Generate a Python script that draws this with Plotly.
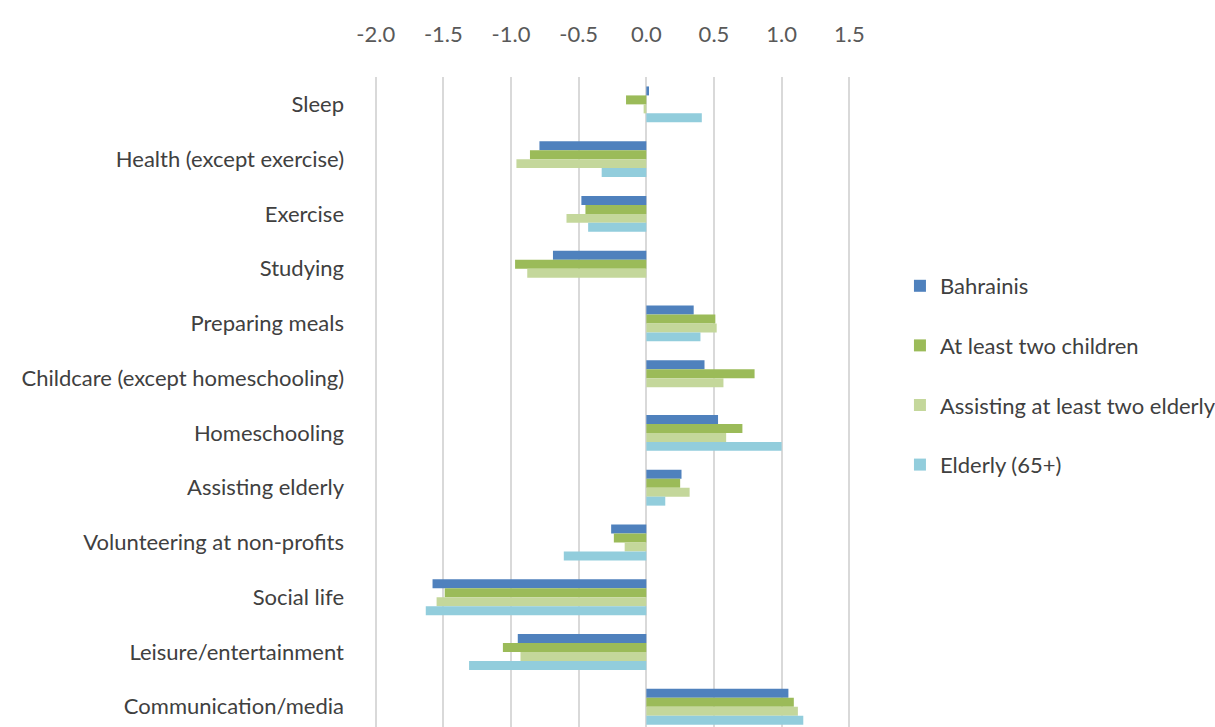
import plotly.graph_objects as go

categories = ["Sleep", "Health (except exercise)", "Exercise", "Studying", "Preparing meals",
              "Childcare (except homeschooling)", "Homeschooling", "Assisting elderly",
              "Volunteering at non-profits", "Social life", "Leisure/entertainment",
              "Communication/media"]
bahrainis = [0.02, -0.79, -0.48, -0.69, 0.35, 0.43, 0.53, 0.26, -0.26, -1.58, -0.95, 1.05]
two_children = [-0.15, -0.86, -0.45, -0.97, 0.51, 0.80, 0.71, 0.25, -0.24, -1.49, -1.06, 1.09]
two_elderly = [-0.02, -0.96, -0.59, -0.88, 0.52, 0.57, 0.59, 0.32, -0.16, -1.55, -0.93, 1.12]
elderly = [0.41, -0.33, -0.43, None, 0.40, None, 1.00, 0.14, -0.61, -1.63, -1.31, 1.16]

series = [
    ("Bahrainis", bahrainis, "#4F81BD"),
    ("At least two children", two_children, "#9BBB59"),
    ("Assisting at least two elderly", two_elderly, "#C4D79B"),
    ("Elderly (65+)", elderly, "#92CDDC"),
]
tick_vals = [-2.0, -1.5, -1.0, -0.5, 0.0, 0.5, 1.0, 1.5]
tick_text = ["-2.0", "-1.5", "-1.0", "-0.5", "0.0", "0.5", "1.0", "1.5"]

fig = go.Figure()
for i, (name, vals, color) in enumerate(series):
    fig.add_trace(go.Bar(
        y=categories, x=vals, name=name, orientation="h",
        marker=dict(color=color, line=dict(width=0)),
        legendgroup="g%d" % i,
    ))

font_family = "Lato, 'Open Sans', sans-serif"
fig.update_layout(
    width=1215, height=727,
    margin=dict(l=373, r=363, t=77, b=0, pad=0),
    paper_bgcolor="white", plot_bgcolor="white",
    barmode="group", bargap=0.345, bargroupgap=0,
    font=dict(family=font_family, size=22, color="#404040"),
    showlegend=True,
    legend=dict(
        xref="container", yref="container",
        x=0.7407, xanchor="left", y=0.6355, yanchor="top",
        traceorder="grouped", tracegroupgap=28,
        font=dict(family=font_family, size=22, color="#404040"),
        bgcolor="rgba(0,0,0,0)",
    ),
    xaxis=dict(
        side="top", range=[-2.02, 1.52], tickvals=tick_vals, ticktext=tick_text,
        showgrid=True, gridcolor="#D9D9D9", gridwidth=2,
        zeroline=True, zerolinecolor="#D9D9D9", zerolinewidth=2,
        showline=False, ticks="", ticklabelstandoff=30,
        tickfont=dict(family=font_family, size=22, color="#595959"),
    ),
    yaxis=dict(
        type="category", range=[11.37, -0.5],
        showgrid=False, zeroline=False, showline=False, ticks="",
        ticklabelstandoff=28,
        tickfont=dict(family=font_family, size=22, color="#404040"),
    ),
)

fig.write_html("out.html", config={"displayModeBar": False},
               post_script="document.body.style.margin='0';document.body.style.overflow='hidden';")
